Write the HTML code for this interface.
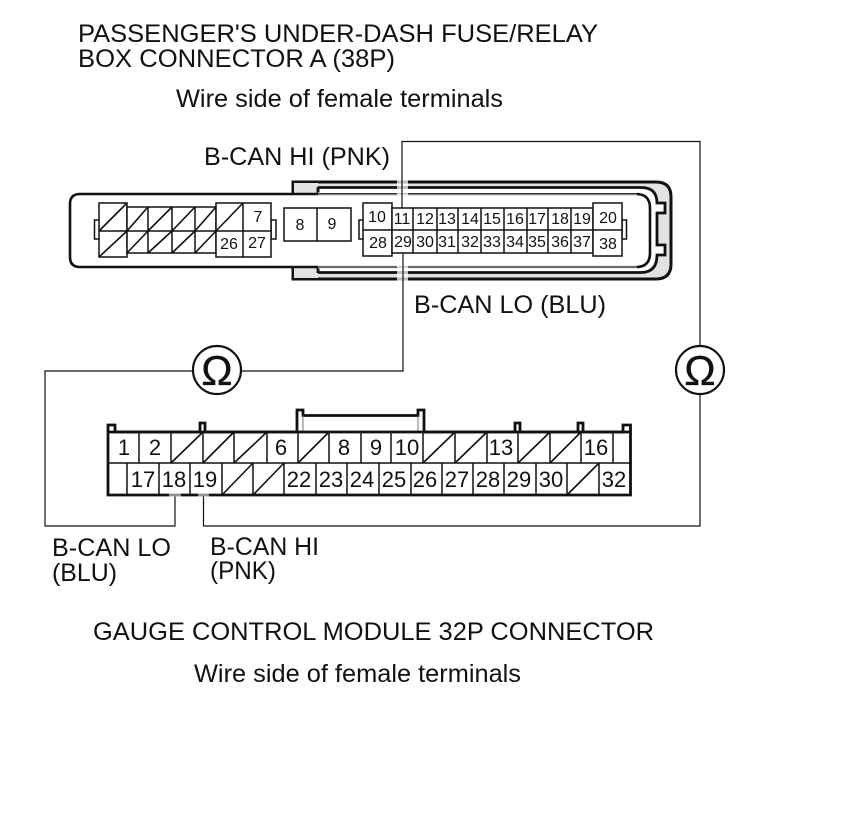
<!DOCTYPE html>
<html>
<head>
<meta charset="utf-8">
<style>
html,body{margin:0;padding:0;background:#fff;width:860px;height:838px;overflow:hidden}
svg{display:block}
text{font-family:"Liberation Sans",Arial,sans-serif;fill:#111}
.t{font-size:25.400px}
.a{font-size:16px;text-anchor:middle}
.b{font-size:22px;text-anchor:middle}
.l{fill:none;stroke:#111;stroke-width:1.5}
.c{fill:#fff;stroke:#111;stroke-width:1.5}
.w{fill:none;stroke:#111;stroke-width:1.2}
.d{stroke:#111;stroke-width:1.6;fill:none}
.o{font-size:42px;text-anchor:middle;stroke:#111;stroke-width:.35}
</style>
</head>
<body>
<svg width="860" height="838" viewBox="0 0 860 838" xmlns="http://www.w3.org/2000/svg">
<rect width="860" height="838" fill="#fff"/>

<!-- Labels -->
<text class="t" x="78" y="42" textLength="520" lengthAdjust="spacingAndGlyphs">PASSENGER'S UNDER-DASH FUSE/RELAY</text>
<text class="t" x="78" y="67" textLength="317" lengthAdjust="spacingAndGlyphs">BOX CONNECTOR A (38P)</text>
<text class="t" x="176" y="107" textLength="327" lengthAdjust="spacingAndGlyphs">Wire side of female terminals</text>
<text class="t" x="204" y="165" textLength="186" lengthAdjust="spacingAndGlyphs">B-CAN HI (PNK)</text>
<text class="t" x="414" y="313" textLength="192" lengthAdjust="spacingAndGlyphs">B-CAN LO (BLU)</text>
<text class="t" x="52" y="556" textLength="119" lengthAdjust="spacingAndGlyphs">B-CAN LO</text>
<text class="t" x="52" y="581" textLength="65" lengthAdjust="spacingAndGlyphs">(BLU)</text>
<text class="t" x="210" y="555" textLength="109" lengthAdjust="spacingAndGlyphs">B-CAN HI</text>
<text class="t" x="210" y="579" textLength="66" lengthAdjust="spacingAndGlyphs">(PNK)</text>
<text class="t" x="93" y="640" textLength="561" lengthAdjust="spacingAndGlyphs">GAUGE CONTROL MODULE 32P CONNECTOR</text>
<text class="t" x="194" y="682" textLength="327" lengthAdjust="spacingAndGlyphs">Wire side of female terminals</text>

<!-- 38P shell -->
<path d="M293 182 H656 Q671 182 671 197 V264 Q671 279 656 279 H293 Z" fill="#e2e2e2" stroke="#111" stroke-width="3"/>
<path d="M318 187.500 H641 Q657 187.500 657 203 H665 V213 H657 V245 H665 V255 H657 Q657 272.500 641 272.500 H318 V267 H293 V194 H318 Z" fill="#fff" stroke="#111" stroke-width="2.800"/>
<path d="M293 182 V194 M293 267 V279" stroke="#111" stroke-width="3"/>
<rect x="294" y="183" width="24" height="10" fill="#e2e2e2"/>
<rect x="294" y="268" width="24" height="10" fill="#e2e2e2"/>
<path d="M318 187 V194 M318 267 V273" stroke="#111" stroke-width="2.800"/>
<path d="M80 194 H636 Q650 194 650 208 V253 Q650 267 636 267 H80 Q70 267 70 257 V204 Q70 194 80 194 Z" fill="#fff" stroke="#111" stroke-width="2.600"/>
<path d="M318 193.800 H637 M318 267 H637" stroke="#fff" stroke-width="2.800"/>
<path d="M318 193.800 H637 M318 267 H637" stroke="#111" stroke-width="1.300"/>

<!-- wire bands across shell -->
<rect x="397" y="180" width="11" height="16" fill="#fff" opacity=".72"/>
<rect x="397" y="265" width="11" height="16" fill="#fff" opacity=".72"/>

<!-- Left block -->
<rect class="c" x="94.500" y="220" width="5" height="19"/>
<rect class="c" x="271" y="220" width="5" height="19"/>
<rect class="c" x="99" y="203" width="28" height="54"/>
<rect class="c" x="127" y="207" width="89" height="46"/>
<rect class="c" x="216" y="203" width="55" height="54"/>
<path class="l" d="M99 231 H271 M148 207 V253 M172 207 V253 M195 207 V253 M243 203 V257"/>
<path class="d" d="M99 231 L127 203 M99 257 L127 231 M127 231 L148 207 M148 231 L172 207 M172 231 L195 207 M195 231 L216 207 M216 231 L243 203 M127 253 L148 231 M148 253 L172 231 M172 253 L195 231 M195 253 L216 231"/>
<text class="a" x="258" y="222">7</text>
<text class="a" x="229" y="249">26</text>
<text class="a" x="257" y="248">27</text>

<!-- 8 9 -->
<rect class="c" x="284" y="208" width="67" height="33"/>
<path class="l" d="M317 208 V241"/>
<text class="a" x="300" y="230">8</text>
<text class="a" x="332" y="229">9</text>

<!-- Right block -->
<rect class="c" x="359" y="220" width="5" height="19"/>
<rect class="c" x="622" y="220" width="4.500" height="19"/>
<rect class="c" x="363" y="203" width="29" height="53"/>
<rect class="c" x="392" y="208" width="201" height="45"/>
<rect class="c" x="593" y="203" width="29" height="53"/>
<path class="l" d="M363 230 H622 M413 208 V253 M437 208 V253 M458 208 V253 M481 208 V253 M504 208 V253 M527 208 V253 M548 208 V253 M571 208 V253"/>
<g class="a">
<text class="a" x="377" y="222">10</text>
<text class="a" x="402" y="224">11</text>
<text class="a" x="425" y="224">12</text>
<text class="a" x="447" y="224">13</text>
<text class="a" x="470" y="224">14</text>
<text class="a" x="492" y="224">15</text>
<text class="a" x="515" y="224">16</text>
<text class="a" x="537" y="224">17</text>
<text class="a" x="560" y="224">18</text>
<text class="a" x="582" y="224">19</text>
<text class="a" x="608" y="223">20</text>
<text class="a" x="378" y="248">28</text>
<text class="a" x="403" y="247">29</text>
<text class="a" x="425" y="247">30</text>
<text class="a" x="447" y="247">31</text>
<text class="a" x="470" y="247">32</text>
<text class="a" x="492" y="247">33</text>
<text class="a" x="515" y="247">34</text>
<text class="a" x="537" y="247">35</text>
<text class="a" x="560" y="247">36</text>
<text class="a" x="582" y="247">37</text>
<text class="a" x="608" y="249">38</text>
</g>

<!-- Wires -->
<path class="w" d="M402 208 V141.500 H700 V526 H203.500 V495"/>
<path class="w" d="M403 253 V371 H45 V526 H175 V495"/>

<!-- Meters -->
<circle cx="217" cy="370" r="24" fill="#fff" stroke="#111" stroke-width="2.200"/>
<circle cx="700" cy="370" r="24" fill="#fff" stroke="#111" stroke-width="2.200"/>
<text class="o" x="217" y="385">Ω</text>
<text class="o" x="700" y="385">Ω</text>

<!-- 32P connector -->
<path d="M108 495 V425 H115 V432 H200 V423 H205 V432 H297 V410 H303 V415.500 H418 V410 H424 V432 H515 V423 H520 V432 H578 V423 H583 V432 H623 V425 H630.500 V495 Z" fill="#fff" stroke="#111" stroke-width="2.800"/>
<path d="M303 415.500 V432 M418 415.500 V432" stroke="#777" stroke-width="1"/>
<path d="M108 432 H631" stroke="#111" stroke-width="2.800"/>
<path class="l" d="M108 463 H631 M139 432 V463 M171 432 V463 M203 432 V463 M234 432 V463 M267 432 V463 M298 432 V463 M329 432 V463 M361 432 V463 M391 432 V463 M423 432 V463 M455 432 V463 M487 432 V463 M518 432 V463 M550 432 V463 M581 432 V463 M613 432 V463"/>
<path class="l" d="M127 463 V495 M159 463 V495 M190 463 V495 M222 463 V495 M253 463 V495 M284 463 V495 M316 463 V495 M347 463 V495 M379 463 V495 M411 463 V495 M442 463 V495 M473 463 V495 M504 463 V495 M536 463 V495 M567 463 V495 M599 463 V495"/>
<path class="d" d="M171 463 L203 432 M203 463 L234 432 M234 463 L267 432 M298 463 L329 432 M423 463 L455 432 M455 463 L487 432 M518 463 L550 432 M550 463 L581 432 M222 495 L253 463 M253 495 L284 463 M567 495 L599 463"/>
<rect x="169" y="493" width="12" height="3.500" fill="#fff" opacity=".55"/>
<rect x="198" y="493" width="11" height="3.500" fill="#fff" opacity=".55"/>

<text class="b" x="124" y="455">1</text>
<text class="b" x="155" y="455">2</text>
<text class="b" x="281" y="455">6</text>
<text class="b" x="344" y="455">8</text>
<text class="b" x="376" y="455">9</text>
<text class="b" x="407" y="455">10</text>
<text class="b" x="501" y="455">13</text>
<text class="b" x="596" y="455">16</text>
<text class="b" x="143" y="487">17</text>
<text class="b" x="174" y="487">18</text>
<text class="b" x="205" y="487">19</text>
<text class="b" x="299" y="487">22</text>
<text class="b" x="331" y="487">23</text>
<text class="b" x="362" y="487">24</text>
<text class="b" x="394" y="487">25</text>
<text class="b" x="425" y="487">26</text>
<text class="b" x="457" y="487">27</text>
<text class="b" x="488" y="487">28</text>
<text class="b" x="519" y="487">29</text>
<text class="b" x="551" y="487">30</text>
<text class="b" x="614" y="487">32</text>
</svg>
</body>
</html>
